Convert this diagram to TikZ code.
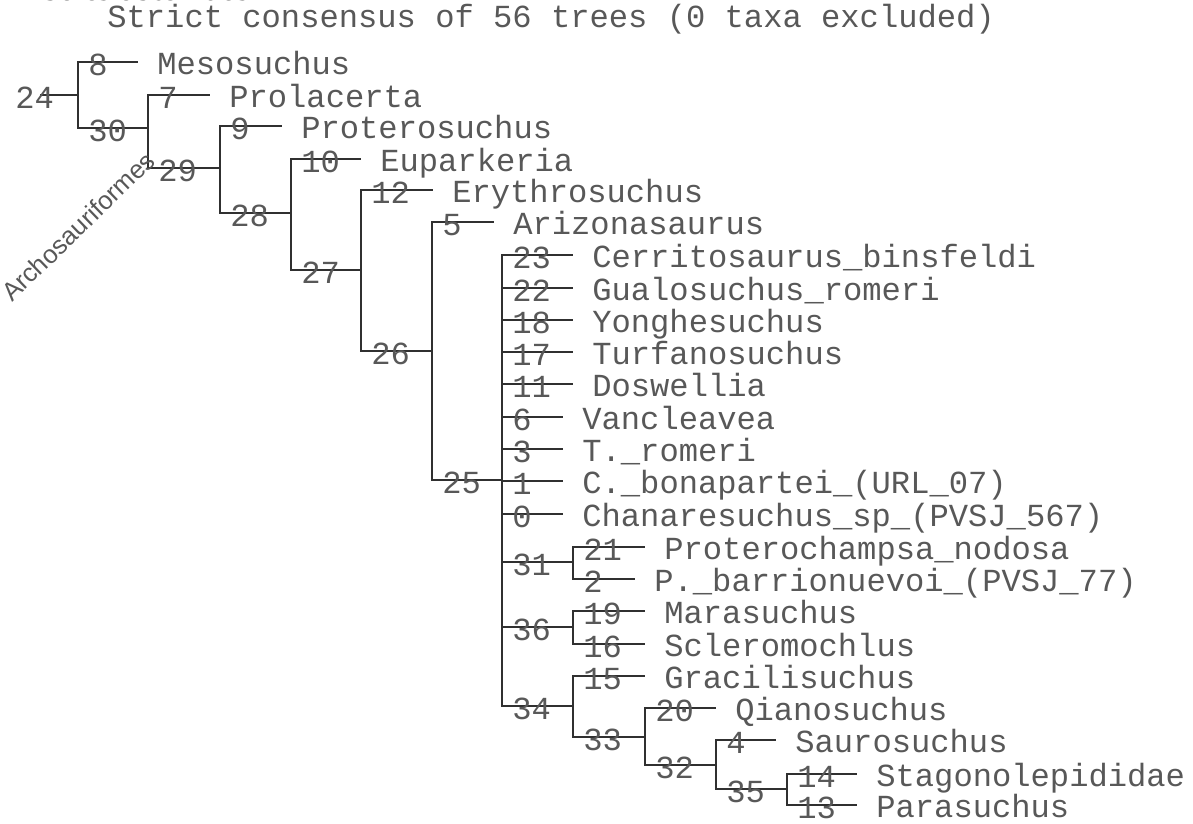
\documentclass[tikz,border=0pt]{standalone}
\usepackage{fontspec}
\setmonofont{Liberation Mono}
\newfontfamily\cladefont{Liberation Sans}
\newfontfamily\headfont{Liberation Serif}
\usetikzlibrary{calc}
\definecolor{branch}{RGB}{48,48,48}
\definecolor{ink}{RGB}{88,88,88}
\newcommand\treefont{\ttfamily\fontsize{18.3}{21}\selectfont}
\tikzset{
  edge/.style={draw=branch,line width=1.5pt},
  num/.style={font=\treefont,text=ink,anchor=base west,inner sep=0pt},
  leaf/.style={font=\treefont,text=ink,anchor=west,inner xsep=10.8pt,inner ysep=0pt,
    text height=14.7pt,text depth=0pt}
}

\begin{document}
\begin{tikzpicture}[x=0.02cm,y=-0.02cm]
 \useasboundingbox (0,0) rectangle (1193,823);
 \node[font=\headfont\bfseries\fontsize{18.1}{20}\selectfont,anchor=base west,inner sep=0pt] (head) at (4,0.4) {Arboles obtenidos};
 \node[num] (title) at (107,27) {Strict consensus of 56 trees (0 taxa excluded)};
 % internal nodes: x of the vertical bar, y of the branch
 \coordinate (root) at (40,95);
 \coordinate (n24) at (78,95);
 \coordinate (n30) at (148,128);
 \coordinate (n29) at (220,168);
 \coordinate (n28) at (291,213);
 \coordinate (n27) at (361,270);
 \coordinate (n26) at (432,351);
 \coordinate (n25) at (502,480);
 \coordinate (n31) at (573,562);
 \coordinate (n36) at (573,627);
 \coordinate (n34) at (573,706);
 \coordinate (n33) at (645,737);
 \coordinate (n32) at (716,765);
 \coordinate (n35) at (787,789);
 \draw[edge] (root) -- (n24);
 \node[num] (l24) at (15,108) {24};
 \foreach \p/\c/\nm in {n24/n30/30,n30/n29/29,n29/n28/28,n28/n27/27,n27/n26/26,n26/n25/25,
   n25/n31/31,n25/n36/36,n25/n34/34,n34/n33/33,n33/n32/32,n32/n35/35} {
   \draw[edge] (\p) |- (\c);
   \node[num] (l\nm) at ($(\p |- \c)+(10,13)$) {\nm};
 }
 % leaves: parent / y / end of branch / number / name
 \foreach \p/\y/\e/\nm/\tx in {n24/62/138/8/Mesosuchus,n30/95/210/7/Prolacerta,
   n29/126/282/9/Proterosuchus,n28/159/361/10/Euparkeria,n27/190/433/12/Erythrosuchus,
   n26/222/494/5/Arizonasaurus,n25/255/573/23/Cerritosaurus\_binsfeldi,
   n25/288/573/22/Gualosuchus\_romeri,n25/320/573/18/Yonghesuchus,
   n25/352/573/17/Turfanosuchus,n25/384/573/11/Doswellia,n25/417/563/6/Vancleavea,
   n25/449/563/3/T.\_romeri,n25/481/563/1/C.\_bonapartei\_(URL\_07),
   n25/514/563/0/Chanaresuchus\_sp\_(PVSJ\_567),n31/547/645/21/Proterochampsa\_nodosa,
   n31/579/635/2/P.\_barrionuevoi\_(PVSJ\_77),n36/611/645/19/Marasuchus,
   n36/644/645/16/Scleromochlus,n34/676/645/15/Gracilisuchus,n33/708/716/20/Qianosuchus,
   n32/740/776/4/Saurosuchus,n35/774/857/14/Stagonolepididae,n35/805/857/13/Parasuchus} {
   \node[leaf] (t\nm) at (\e,\y) {\tx};
   \draw[edge] (\p) |- (t\nm.west);
   \node[num] (l\nm) at ($(\p |- t\nm.west)+(10,13)$) {\nm};
 }
 \node[font=\cladefont\fontsize{14.6}{16}\selectfont,text=ink,rotate=44,anchor=base west,
   inner sep=0pt] (clade) at (12,303) {Archosauriformes};
\end{tikzpicture}
\end{document}
